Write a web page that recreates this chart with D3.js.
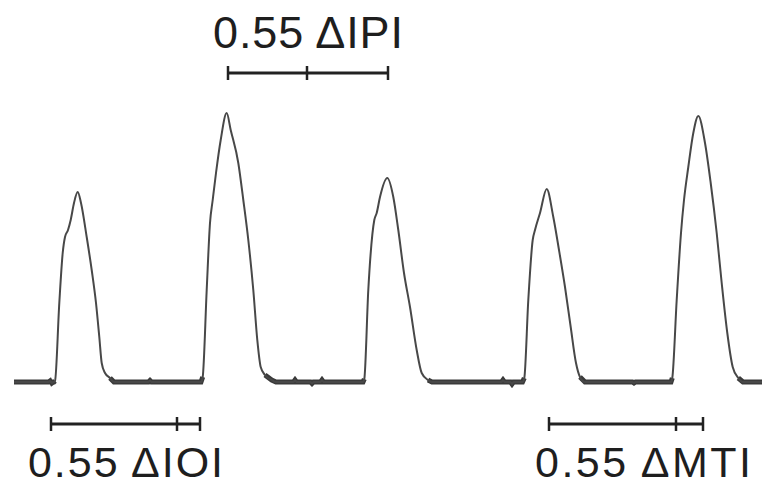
<!DOCTYPE html>
<html>
<head>
<meta charset="utf-8">
<script src="https://cdn.jsdelivr.net/npm/d3@7"></script>
<style>
  html, body { margin: 0; padding: 0; background: #fff; }
  svg { display: block; }
</style>
</head>
<body>
<svg id="chart" width="762" height="486"></svg>
<script>
// ---- data (time units, amplitude units) ----
const peak1 = [[40,0],[41,1],[45.3,79],[48.7,129],[51,145],[54,152],[56.7,162],[60,179],[63.7,190],[67,179],[72.7,145],[77.7,112],[82,79],[85.3,45],[87.7,19],[91,9],[96,4],[100,0]];
const peak2 = [[187,0],[188.7,5],[192.7,92],[196,159],[198.7,182],[202,209],[206.7,242],[212.7,269],[216.7,252],[224.3,219],[229.3,182],[234.3,142],[239.3,92],[243.3,42],[246.7,15],[251,7],[257.7,2],[262,0]];
const peak3 = [[349,0],[350.3,3],[354.3,92],[360.3,162],[362.7,169],[366,185],[373.3,204],[379.3,185],[384.3,152],[390,109],[396,75],[402.7,32],[407.7,9],[414,2],[418,0]];
const peak4 = [[508.5,0],[510.3,4],[514.3,82],[518.7,142],[521,152],[526,169],[532.7,193],[539.3,165],[545,132],[551,95],[556.7,55],[562,19],[566,5],[571,0]];
const peak5 = [[657,0],[658.3,4],[662.7,82],[667,149],[670,182],[674.3,215],[679.3,249],[684.3,266],[691,239],[696.7,199],[702.7,149],[707.7,99],[713.3,49],[718.7,15],[724.3,4],[729,0]];
const baselineBlips = [[36,1],[38,-1],[136,1.5],[281,2],[298,-1.5],[308,2],[489,2],[498,-2],[620,-1]];
const traceStart = 0, traceEnd = 748;

// brackets: [start, tick, end]
const bracketIPI = [214, 293, 374];
const bracketIOI = [37, 163, 186];
const bracketMTI = [535, 662, 689];
const labels = ["0.55 \u0394IPI", "0.55 \u0394IOI", "0.55 \u0394MTI"];

// ---- build trace ----
const blipPts = baselineBlips.flatMap(([t, v]) => [[t - 1.5, 0], [t, v], [t + 1.5, 0]]);
const trace = [[traceStart, 0], ...peak1, ...peak2, ...peak3, ...peak4, ...peak5, ...blipPts, [traceEnd, 0]]
  .sort((a, b) => a[0] - b[0]);

const svg = d3.select("#chart");
const x = d3.scaleLinear().domain([0, 748]).range([14, 762]);
const y = d3.scaleLinear().domain([0, 270]).range([382, 112]);

const line = d3.line().x(d => x(d[0])).y(d => y(d[1])).curve(d3.curveMonotoneX);

// baseline noise band (thicker)
svg.append("path")
  .datum(trace)
  .attr("d", d3.line().defined(d => d[1] < 8).x(d => x(d[0])).y(d => y(d[1])))
  .attr("fill", "none")
  .attr("stroke", "#3a3a3a")
  .attr("stroke-width", 5)
  .attr("stroke-linecap", "butt");

svg.append("path")
  .datum(trace)
  .attr("d", line)
  .attr("fill", "none")
  .attr("stroke", "#484848")
  .attr("stroke-width", 2)
  .attr("stroke-linejoin", "round");

// ---- brackets ----
function bracket(b, yy) {
  const g = svg.append("g").attr("stroke", "#222").attr("stroke-width", 3);
  g.append("line").attr("x1", x(b[0])).attr("x2", x(b[2])).attr("y1", yy).attr("y2", yy);
  b.forEach(t => g.append("line").attr("x1", x(t)).attr("x2", x(t)).attr("y1", yy - 7).attr("y2", yy + 7).attr("stroke-width", 2.5));
}
bracket(bracketIPI, 73);
bracket(bracketIOI, 424);
bracket(bracketMTI, 424);

// ---- labels ----
const labelPos = [
  { x: 213, y: 48, len: 190, fs: 45 },
  { x: 28, y: 477, len: 195, fs: 43 },
  { x: 535, y: 477, len: 216, fs: 43 }
];
labels.forEach((txt, i) => {
  svg.append("text")
    .attr("x", labelPos[i].x)
    .attr("y", labelPos[i].y)
    .attr("font-family", "'Liberation Sans', Arial, Helvetica, sans-serif")
    .attr("font-size", labelPos[i].fs)
    .attr("fill", "#1e1e1e")
    .attr("textLength", labelPos[i].len)
    .attr("lengthAdjust", "spacing")
    .text(txt);
});
</script>
</body>
</html>
